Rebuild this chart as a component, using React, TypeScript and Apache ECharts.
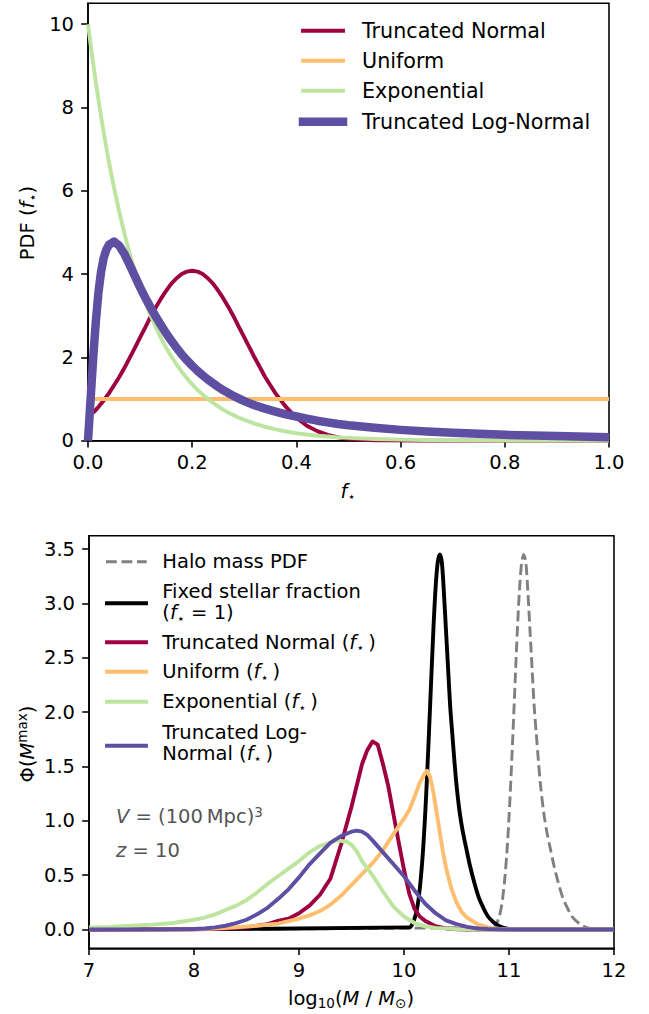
import { useEffect, useRef } from "react";
import * as echarts from "echarts";

const FONT = "DejaVu Sans";
const FS = 19.5;

// ---------- Top panel: PDFs of f_star ----------
const fGrid = [0, 0.005, 0.01, 0.015, 0.02, 0.025, 0.03, 0.035, 0.04, 0.05, 0.06, 0.07, 0.08, 0.09, 0.1, 0.11, 0.12, 0.13, 0.14, 0.15, 0.16, 0.17, 0.18, 0.19, 0.2, 0.21, 0.22, 0.23, 0.24, 0.25, 0.26, 0.27, 0.28, 0.29, 0.3, 0.32, 0.34, 0.36, 0.38, 0.4, 0.42, 0.44, 0.46, 0.48, 0.5, 0.55, 0.6, 0.65, 0.7, 0.8, 0.9, 1.0];
const truncNormalPdf = [null, null, 0.67, 0.74, 0.81, 0.89, 0.96, 1.05, 1.135, 1.33, 1.53, 1.75, 1.99, 2.23, 2.48, 2.72, 2.97, 3.2, 3.41, 3.6, 3.77, 3.9, 4.0, 4.06, 4.08, 4.06, 4.0, 3.9, 3.77, 3.6, 3.41, 3.2, 2.97, 2.72, 2.48, 1.99, 1.53, 1.135, 0.81, 0.55, 0.36, 0.23, 0.14, 0.08, 0.045, 0.009, 0.001, 0, 0, 0, 0, 0];
const exponentialPdf = [10, 9.51, 9.05, 8.61, 8.19, 7.79, 7.41, 7.05, 6.7, 6.07, 5.49, 4.97, 4.49, 4.07, 3.68, 3.33, 3.01, 2.73, 2.47, 2.23, 2.02, 1.83, 1.65, 1.5, 1.35, 1.22, 1.11, 1.0, 0.91, 0.82, 0.74, 0.67, 0.61, 0.55, 0.5, 0.41, 0.33, 0.27, 0.22, 0.18, 0.15, 0.12, 0.1, 0.08, 0.067, 0.041, 0.025, 0.015, 0.009, 0.003, 0.001, 0.0005];
const truncLogNormalPdf = [0, 1.0, 2.0, 2.85, 3.55, 4.05, 4.38, 4.58, 4.7, 4.78, 4.68, 4.48, 4.22, 3.95, 3.68, 3.43, 3.2, 2.98, 2.78, 2.58, 2.4, 2.23, 2.07, 1.93, 1.8, 1.68, 1.57, 1.47, 1.38, 1.29, 1.21, 1.14, 1.07, 1.01, 0.95, 0.85, 0.77, 0.7, 0.63, 0.58, 0.53, 0.48, 0.44, 0.4, 0.37, 0.31, 0.26, 0.22, 0.19, 0.14, 0.11, 0.08];
const uniformX = [0.01, 1.0];
const uniformPdf = [1, 1];

const topXTicks = [0, 0.2, 0.4, 0.6, 0.8, 1.0];
const topYTicks = [0, 2, 4, 6, 8, 10];

// ---------- Bottom panel: Phi(M_max) ----------
const haloX = [7, 10.85, 10.88, 10.9, 10.92, 10.94, 10.96, 10.98, 11.0, 11.02, 11.04, 11.06, 11.08, 11.1, 11.12, 11.14, 11.16, 11.18, 11.2, 11.22, 11.24, 11.26, 11.28, 11.3, 11.33, 11.36, 11.39, 11.43, 11.47, 11.51, 11.55, 11.6, 11.65, 11.7, 11.75, 11.8, 11.9, 12];
const haloY = [0, 0.02, 0.05, 0.1, 0.17, 0.29, 0.47, 0.71, 1.03, 1.42, 1.86, 2.32, 2.76, 3.13, 3.37, 3.45, 3.38, 3.1, 2.75, 2.4, 2.05, 1.8, 1.55, 1.33, 1.08, 0.9, 0.76, 0.58, 0.43, 0.3, 0.21, 0.12, 0.07, 0.035, 0.015, 0.006, 0.001, 0];
const fixedX = [7, 10.05, 10.08, 10.1, 10.12, 10.14, 10.16, 10.18, 10.2, 10.22, 10.24, 10.26, 10.28, 10.3, 10.32, 10.34, 10.36, 10.38, 10.4, 10.42, 10.44, 10.46, 10.48, 10.5, 10.53, 10.56, 10.59, 10.63, 10.67, 10.71, 10.75, 10.8, 10.85, 10.9, 10.95, 11.0, 11.1, 12];
const fixedY = [0, 0.02, 0.05, 0.1, 0.17, 0.29, 0.47, 0.71, 1.03, 1.42, 1.86, 2.32, 2.76, 3.13, 3.37, 3.45, 3.38, 3.1, 2.75, 2.4, 2.05, 1.8, 1.55, 1.33, 1.08, 0.9, 0.76, 0.58, 0.43, 0.3, 0.21, 0.12, 0.07, 0.035, 0.015, 0.006, 0.001, 0];
const tnX = [7, 8.0, 8.3, 8.5, 8.7, 8.8, 8.9, 9.0, 9.1, 9.2, 9.3, 9.4, 9.5, 9.6, 9.65, 9.7, 9.75, 9.8, 9.85, 9.9, 9.95, 10.0, 10.05, 10.1, 10.15, 10.2, 10.3, 10.4, 10.5, 10.6, 12];
const tnY = [0, 0.002, 0.008, 0.02, 0.05, 0.08, 0.1, 0.15, 0.22, 0.32, 0.47, 0.78, 1.13, 1.52, 1.65, 1.73, 1.7, 1.52, 1.32, 1.06, 0.8, 0.55, 0.33, 0.19, 0.12, 0.08, 0.03, 0.01, 0.003, 0, 0];
const uniX = [7, 8.0, 8.2, 8.4, 8.6, 8.8, 9.0, 9.1, 9.2, 9.3, 9.4, 9.5, 9.6, 9.7, 9.8, 9.9, 10.0, 10.05, 10.1, 10.15, 10.2, 10.22, 10.25, 10.28, 10.31, 10.34, 10.37, 10.4, 10.45, 10.5, 10.55, 10.6, 10.7, 10.8, 10.9, 11.0, 12];
const uniY = [0, 0.003, 0.01, 0.02, 0.035, 0.055, 0.1, 0.13, 0.17, 0.23, 0.31, 0.41, 0.51, 0.61, 0.73, 0.88, 1.02, 1.1, 1.22, 1.35, 1.44, 1.46, 1.4, 1.26, 1.08, 0.9, 0.72, 0.57, 0.38, 0.25, 0.16, 0.11, 0.05, 0.02, 0.008, 0, 0];
const expX = [7.0, 7.2, 7.4, 7.6, 7.8, 8.0, 8.1, 8.2, 8.3, 8.4, 8.5, 8.6, 8.7, 8.8, 8.9, 9.0, 9.1, 9.2, 9.3, 9.35, 9.45, 9.5, 9.55, 9.6, 9.7, 9.8, 9.9, 10.0, 10.1, 10.2, 10.3, 10.5, 10.7, 12];
const expY = [0.02, 0.025, 0.035, 0.045, 0.06, 0.09, 0.11, 0.14, 0.18, 0.22, 0.27, 0.34, 0.42, 0.49, 0.56, 0.63, 0.71, 0.77, 0.8, 0.82, 0.81, 0.78, 0.72, 0.63, 0.5, 0.35, 0.21, 0.12, 0.06, 0.03, 0.015, 0.004, 0, 0];
const tlnX = [7, 7.8, 8.0, 8.1, 8.2, 8.3, 8.4, 8.5, 8.6, 8.7, 8.8, 8.9, 9.0, 9.1, 9.2, 9.3, 9.4, 9.5, 9.55, 9.6, 9.65, 9.7, 9.8, 9.9, 10.0, 10.1, 10.2, 10.3, 10.4, 10.5, 10.6, 10.7, 10.8, 11.0, 12];
const tlnY = [0, 0.002, 0.005, 0.01, 0.02, 0.035, 0.06, 0.09, 0.14, 0.2, 0.28, 0.37, 0.48, 0.6, 0.7, 0.8, 0.86, 0.9, 0.91, 0.9, 0.87, 0.82, 0.71, 0.6, 0.49, 0.36, 0.24, 0.15, 0.085, 0.05, 0.025, 0.01, 0.005, 0.001, 0];

const botXTicks = [7, 8, 9, 10, 11, 12];
const botYTicks = [0, 0.5, 1.0, 1.5, 2.0, 2.5, 3.0, 3.5];

const C_RED = "#9e0142";
const C_ORANGE = "#fdbf6f";
const C_GREEN = "#bee5a0";
const C_PURPLE = "#5e4fa2";

function pairs(xs: number[], ys: (number | null)[]) {
  const out: number[][] = [];
  xs.forEach((x, i) => {
    const y = ys[i];
    if (y !== null && y !== undefined) out.push([x, y]);
  });
  return out;
}

const rich = {
  i: { fontStyle: "italic", fontSize: FS, fontFamily: FONT, lineHeight: 24 },
  s: { fontSize: 13, fontFamily: FONT, verticalAlign: "bottom" },
  s10: { fontSize: 13.5, fontFamily: FONT, verticalAlign: "bottom" },
  sup: { fontSize: 13.5, fontFamily: FONT, verticalAlign: "top" },
};

function txt(x: number, y: number, text: string, opts: any = {}) {
  return {
    type: "text",
    x,
    y,
    rotation: opts.rotation || 0,
    z: 100,
    style: {
      text,
      fontSize: opts.fontSize || FS,
      fontFamily: FONT,
      fill: opts.fill || "#000",
      align: opts.align || "left",
      verticalAlign: "middle",
      lineHeight: 24,
      rich,
    },
  };
}

function legLine(x1: number, x2: number, y: number, color: string, width: number, dash?: number[]) {
  return {
    type: "line",
    z: 100,
    shape: { x1, y1: y, x2, y2: y },
    style: {
      stroke: color,
      lineWidth: width,
      lineCap: dash ? "butt" : "square",
      lineDash: dash || null,
    },
  };
}

function axisCommon(ticks: number[], fmt: (v: number) => string, margin: number) {
  return {
    axisLine: { show: true, onZero: false, lineStyle: { color: "#000", width: 1.56 } },
    axisTick: { show: true, length: 6.8, customValues: ticks, lineStyle: { color: "#000", width: 1.56 } },
    axisLabel: {
      customValues: ticks,
      formatter: fmt,
      margin,
      fontSize: FS,
      fontFamily: FONT,
      color: "#000",
    },
    splitLine: { show: false },
  };
}

const lineSeries = (xi: number, data: number[][], color: string, width: number, extra: any = {}) => ({
  type: "line",
  xAxisIndex: xi,
  yAxisIndex: xi,
  data,
  showSymbol: false,
  symbol: "none",
  lineStyle: { color, width, join: "round", cap: "butt", ...(extra.lineStyle || {}) },
  smooth: extra.smooth || false,
  z: 2,
});

const TL = 20.7; // top legend font size
const SP = "\u2009";

const option: any = {
  animation: false,
  backgroundColor: "#ffffff",
  grid: [
    { left: 88, top: 3.3, width: 521, height: 437.4, show: true, borderColor: "#000", borderWidth: 1.56 },
    { left: 89, top: 535.7, width: 525, height: 412.6, show: true, borderColor: "#000", borderWidth: 1.56 },
  ],
  xAxis: [
    { type: "value", gridIndex: 0, min: 0, max: 1, ...axisCommon(topXTicks, (v: number) => v.toFixed(1), 12) },
    { type: "value", gridIndex: 1, min: 7, max: 12, ...axisCommon(botXTicks, (v: number) => String(v), 12) },
  ],
  yAxis: [
    { type: "value", gridIndex: 0, min: 0, max: 10.5, ...axisCommon(topYTicks, (v: number) => String(v), 14) },
    { type: "value", gridIndex: 1, min: -0.1725, max: 3.6225, ...axisCommon(botYTicks, (v: number) => v.toFixed(1), 14) },
  ],
  series: [
    lineSeries(0, pairs(fGrid, truncNormalPdf), C_RED, 3.9),
    lineSeries(0, pairs(uniformX, uniformPdf), C_ORANGE, 3.9),
    lineSeries(0, pairs(fGrid, exponentialPdf), C_GREEN, 3.9),
    lineSeries(0, pairs(fGrid, truncLogNormalPdf), C_PURPLE, 8.5),

    lineSeries(1, pairs(haloX, haloY), "#808080", 2.9, { lineStyle: { type: [10.8, 4.7] }, smooth: 0.3 }),
    lineSeries(1, pairs(fixedX, fixedY), "#000000", 3.9, { smooth: 0.3 }),
    lineSeries(1, pairs(tnX, tnY), C_RED, 3.9),
    lineSeries(1, pairs(uniX, uniY), C_ORANGE, 3.9),
    lineSeries(1, pairs(expX, expY), C_GREEN, 3.9),
    lineSeries(1, pairs(tlnX, tlnY), C_PURPLE, 3.9),
  ],
  graphic: [
    // top legend
    legLine(303, 343, 30.7, C_RED, 3.9),
    txt(362, 30.7, "Truncated Normal", { fontSize: TL }),
    legLine(303, 343, 60.7, C_ORANGE, 3.9),
    txt(362, 60.7, "Uniform", { fontSize: TL }),
    legLine(303, 343, 90.7, C_GREEN, 3.9),
    txt(362, 90.7, "Exponential", { fontSize: TL }),
    legLine(303, 343, 121.7, C_PURPLE, 8.5),
    txt(362, 121.7, "Truncated Log-Normal", { fontSize: TL }),
    // top axis titles
    txt(348, 491, "{i|f}{s|⋆}", { align: "center" }),
    txt(27, 223, "PDF ({i|f}{s|⋆})", { align: "center", rotation: Math.PI / 2 }),
    // bottom legend
    legLine(106, 146.7, 561.7, "#808080", 2.9, [10.8, 4.7]),
    txt(162.3, 561.7, "Halo mass PDF"),
    legLine(107, 146, 603.3, "#000000", 3.9),
    txt(162.3, 591, "Fixed stellar fraction"),
    txt(162.3, 612.7, "({i|f}{s|⋆} = 1)"),
    legLine(107, 146, 642.3, C_RED, 3.9),
    txt(162.3, 642.3, `Truncated Normal ({i|f}{s|⋆}${SP})`),
    legLine(107, 146, 671.7, C_ORANGE, 3.9),
    txt(162.3, 671.7, `Uniform ({i|f}{s|⋆}${SP})`),
    legLine(107, 146, 701.7, C_GREEN, 3.9),
    txt(162.3, 701.7, `Exponential ({i|f}{s|⋆}${SP})`),
    legLine(107, 146, 745.7, C_PURPLE, 3.9),
    txt(162.3, 732.3, "Truncated Log-"),
    txt(162.3, 753.3, `Normal ({i|f}{s|⋆}${SP})`),
    // annotations
    txt(116, 816.7, `{i|V} = (100${SP}Mpc){sup|3}`, { fill: "#555555" }),
    txt(116, 850, "{i|z} = 10", { fill: "#555555" }),
    // bottom axis titles
    txt(351, 998, "log{s10|10}({i|M} / {i|M}{s10|⊙})", { align: "center" }),
    txt(27, 744, "Φ({i|M}{sup|max})", { align: "center", rotation: Math.PI / 2 }),
  ],
};

export default function App() {
  const ref = useRef<HTMLDivElement>(null);
  useEffect(() => {
    document.body.style.margin = "0";
    const chart = echarts.init(ref.current!, null, { renderer: "svg" });
    chart.setOption(option);
    return () => chart.dispose();
  }, []);
  return <div ref={ref} style={{ width: 649, height: 1014 }} />;
}
